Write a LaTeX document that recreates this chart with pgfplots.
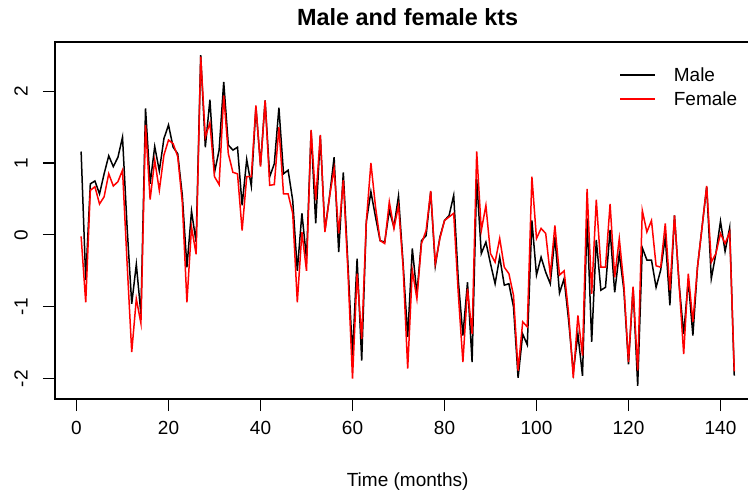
\documentclass[border=0pt]{standalone}
\usepackage{fontspec}
\setmainfont{Liberation Sans}
\setsansfont{Liberation Sans}
\usepackage{pgfplots}
\usepackage{pgfplotstable}
\pgfplotsset{compat=1.18}

% monthly kts, males and females
\pgfplotstableread{
t male female
1 1.16 -0.02
2 -0.63 -0.94
3 0.71 0.62
4 0.75 0.67
5 0.57 0.43
6 0.85 0.53
7 1.10 0.85
8 0.95 0.68
9 1.08 0.74
10 1.36 0.90
11 0.10 -0.40
12 -0.96 -1.63
13 -0.41 -0.89
14 -1.10 -1.23
15 1.76 1.53
16 0.71 0.49
17 1.23 1.04
18 0.89 0.62
19 1.34 1.11
20 1.53 1.32
21 1.22 1.27
22 1.13 1.09
23 0.55 0.45
24 -0.45 -0.94
25 0.33 0.11
26 -0.10 -0.27
27 2.50 2.48
28 1.22 1.36
29 1.88 1.56
30 0.87 0.81
31 1.18 0.70
32 2.13 1.94
33 1.25 1.13
34 1.18 0.87
35 1.22 0.85
36 0.41 0.06
37 1.05 0.81
38 0.68 0.81
39 1.78 1.80
40 0.97 0.95
41 1.87 1.87
42 0.81 0.69
43 0.99 0.70
44 1.77 1.50
45 0.85 0.57
46 0.90 0.57
47 0.48 0.30
48 -0.50 -0.94
49 0.30 0.04
50 -0.33 -0.50
51 1.45 1.46
52 0.16 0.48
53 1.38 1.39
54 0.06 0.04
55 0.53 0.53
56 1.08 0.92
57 -0.24 0.02
58 0.87 0.76
59 -0.40 -0.50
60 -1.68 -2.00
61 -0.33 -0.54
62 -1.75 -1.45
63 0.18 0.18
64 0.60 1.00
65 0.25 0.39
66 -0.08 -0.08
67 -0.10 -0.12
68 0.34 0.46
69 0.11 0.09
70 0.54 0.41
71 -0.40 -0.45
72 -1.42 -1.86
73 -0.19 -0.49
74 -0.82 -0.89
75 -0.08 -0.12
76 -0.01 0.06
77 0.60 0.61
78 -0.43 -0.40
79 -0.03 -0.05
80 0.20 0.20
81 0.27 0.25
82 0.55 0.30
83 -0.63 -0.82
84 -1.40 -1.77
85 -0.66 -0.75
86 -1.77 -1.38
87 0.78 1.16
88 -0.26 0.06
89 -0.10 0.41
90 -0.40 -0.26
91 -0.68 -0.38
92 -0.31 -0.05
93 -0.70 -0.45
94 -0.68 -0.54
95 -1.00 -0.84
96 -1.99 -1.89
97 -1.38 -1.21
98 -1.53 -1.28
99 0.20 0.81
100 -0.56 -0.05
101 -0.31 0.09
102 -0.52 0.02
103 -0.68 -0.56
104 -0.03 0.13
105 -0.81 -0.56
106 -0.61 -0.50
107 -1.20 -1.10
108 -1.91 -1.99
109 -1.38 -1.12
110 -1.96 -1.68
111 0.23 0.64
112 -1.49 -0.82
113 -0.07 0.49
114 -0.77 -0.45
115 -0.73 -0.45
116 0.07 0.43
117 -0.80 -0.59
118 -0.26 -0.05
119 -0.77 -0.70
120 -1.80 -1.77
121 -0.73 -0.72
122 -2.10 -1.89
123 -0.18 0.34
124 -0.35 0.04
125 -0.35 0.20
126 -0.73 -0.43
127 -0.49 -0.45
128 -0.03 0.16
129 -0.98 -0.77
130 0.27 0.27
131 -0.68 -0.68
132 -1.38 -1.66
133 -0.63 -0.54
134 -1.40 -1.21
135 -0.45 -0.45
136 0.11 0.11
137 0.67 0.68
138 -0.61 -0.38
139 -0.26 -0.26
140 0.19 0.02
141 -0.23 -0.12
142 0.10 0.04
143 -1.96 -1.90
}\kts

\begin{document}
\begin{tikzpicture}
\begin{axis}[
  name=ax,
  scale only axis,
  width=352.7pt, height=178.5pt,
  xmin=-4.68, xmax=148.68,
  ymin=-2.284, ymax=2.684,
  xtick={0,20,...,140},
  ytick={-2,-1,0,1,2},
  tick align=outside,
  xtick pos=bottom, ytick pos=left,
  major tick length=6pt,
  tick style={black, line width=0.6pt},
  axis line style={black, line width=0.6pt},
  /pgf/number format/assume math mode=true,
  ticklabel style={font=\fontsize{9.5}{11}\selectfont},
  xticklabel style={anchor=center, inner sep=0pt, yshift=-8.5pt},
  yticklabel style={rotate=90, anchor=center, inner sep=0pt, yshift=11pt},
  title={Male and female kts},
  title style={font=\fontsize{11.7}{14}\selectfont\bfseries, anchor=center,
    at={(axis description cs:0.5,1)}, yshift=6.5pt, inner sep=0pt},
  xlabel={Time (months)},
  xlabel style={font=\fontsize{9.5}{11}\selectfont, anchor=center,
    at={(axis description cs:0.5,0)}, yshift=-41.5pt, inner sep=0pt},
  legend style={draw=none, fill=none, font=\fontsize{9.5}{11}\selectfont,
    at={(axis description cs:0.791,0.94)}, anchor=north west,
    nodes={inner sep=0pt, anchor=base west}, row sep=3.7pt},
  legend cell align=left,
  legend image code/.code={\draw[#1] (0pt,3.4pt) -- (17.5pt,3.4pt);},
  /tikz/every odd column/.append style={column sep=9pt},
]
\addplot[black, line width=0.75pt] table[x=t, y=male] {\kts};
\addlegendentry{Male}
\addplot[red, line width=0.75pt] table[x=t, y=female] {\kts};
\addlegendentry{Female}
\end{axis}
\pgfresetboundingbox
\path[use as bounding box] ([shift={(-27.5pt,-47pt)}]ax.south west)
  rectangle ([shift={(346.5pt,199.5pt)}]ax.south west);
\end{tikzpicture}
\end{document}
